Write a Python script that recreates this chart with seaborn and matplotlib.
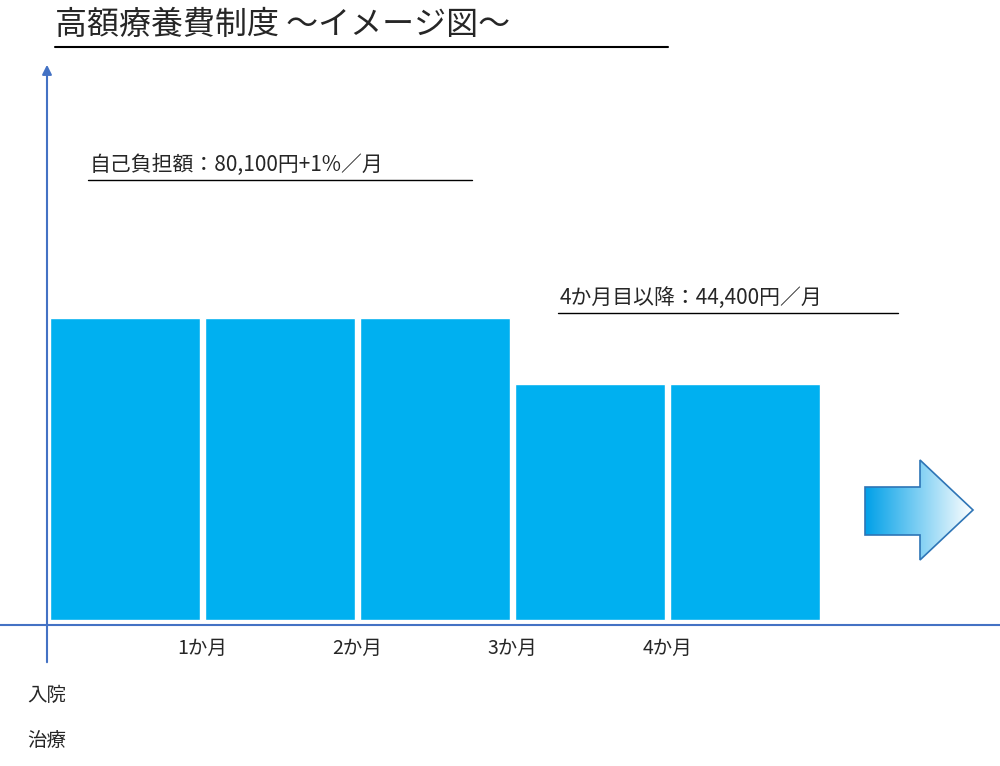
import numpy as np
import matplotlib.pyplot as plt
import seaborn as sns
from matplotlib.patches import Polygon

sns.set_style("white")
plt.rcParams["font.family"] = ["Noto Sans CJK JP", "DejaVu Sans"]

# chart data (relative burden heights)
months = ["1", "2", "3", "4", "5"]
burden = [302, 302, 302, 236, 236]
tick_labels = ["1か月", "2か月", "3か月", "4か月"]
title = "高額療養費制度 ～イメージ図～"
note_high = "自己負担額：80,100円+1%／月"
note_low = "4か月目以降：44,400円／月"

fig = plt.figure(figsize=(10, 7.66), dpi=100)
ax = fig.add_axes([0, 0, 1, 1])

sns.barplot(x=months, y=burden, color="#00B0F0", saturation=1, width=150 / 155, ax=ax)

# pixel-like mapping: bar i centred at 125 + 155 i, baseline at 620
ax.set_xlim((0 - 125) / 155, (1000 - 125) / 155)
ax.set_ylim(620 - 766, 620)
ax.axis("off")

axis_col = "#4472C4"
yx = (47 - 125) / 155
ax.plot([ax.get_xlim()[0], ax.get_xlim()[1]], [-5, -5], color=axis_col, lw=1.5)
ax.annotate("", xy=(yx, 558), xytext=(yx, -45),
            arrowprops=dict(arrowstyle="-|>", color=axis_col, lw=1.5, mutation_scale=14))

for i, lab in enumerate(tick_labels):
    ax.text(i + 0.5, -28, lab, ha="center", va="center", fontsize=14)

ax.text(yx, -75, "入院", ha="center", va="center", fontsize=14)
ax.text(yx, -120, "治療", ha="center", va="center", fontsize=14)

fig.text(0.055, 1 - 25 / 766, title, fontsize=23, va="center", ha="left")
fig.add_artist(plt.Line2D([0.055, 0.668], [1 - 47 / 766] * 2, color="black", lw=1.5))

ax.text((90 - 125) / 155, 620 - 165, note_high, fontsize=15, va="center", ha="left")
ax.plot([(88 - 125) / 155, (472 - 125) / 155], [620 - 180] * 2, color="black", lw=1)
ax.text((560 - 125) / 155, 620 - 298, note_low, fontsize=15, va="center", ha="left")
ax.plot([(558 - 125) / 155, (898 - 125) / 155], [620 - 313] * 2, color="black", lw=1)

# gradient block arrow
def px(x, y):
    return ((x - 125) / 155, 620 - y)

pts = [px(865, 487), px(920, 487), px(920, 460), px(973, 510),
       px(920, 560), px(920, 535), px(865, 535)]
poly = Polygon(pts, closed=True, facecolor="none", edgecolor="#2E75B6", lw=1.2, zorder=3)
ax.add_patch(poly)
grad = np.linspace(1, 0, 256).reshape(1, -1)
x0, y0 = px(865, 560)
x1, y1 = px(973, 460)
from matplotlib.colors import LinearSegmentedColormap
cmap = LinearSegmentedColormap.from_list("g", ["#FFFFFF", "#00A0E8"])
im = ax.imshow(grad, extent=[x0, x1, y0, y1], cmap=cmap, aspect="auto", zorder=2)
im.set_clip_path(poly)
ax.set_xlim((0 - 125) / 155, (1000 - 125) / 155)
ax.set_ylim(620 - 766, 620)

fig.savefig("out.png", dpi=100, facecolor="white")
